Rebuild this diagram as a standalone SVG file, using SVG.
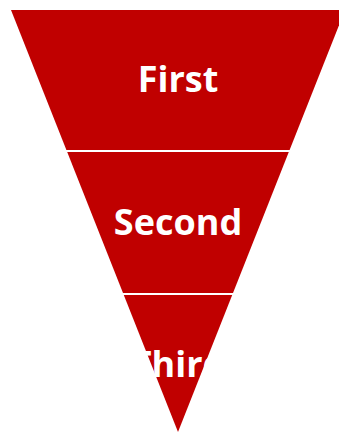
<svg xmlns="http://www.w3.org/2000/svg" width="339" height="432" viewBox="0 0 339 432">
<style>
.band{fill:#C00000;}
.lbl{fill:#FFFFFF;font-family:"Open Sans","Noto Sans","Liberation Sans",sans-serif;font-weight:bold;font-size:36px;text-anchor:middle;}
</style>
<rect width="339" height="432" fill="#FFFFFF"/>
<g id="first">
<polygon class="band" points="11,10 345,10 289.6,150 66.4,150"/>
<text class="lbl" x="178" y="92">First</text>
</g>
<g id="second">
<polygon class="band" points="67.2,152 288.8,152 233,293 123,293"/>
<text class="lbl" x="178" y="235">Second</text>
</g>
<g id="third">
<polygon class="band" points="123.8,295 232.2,295 178,432"/>
<text class="lbl" x="178" y="377">Third</text>
</g>
</svg>
